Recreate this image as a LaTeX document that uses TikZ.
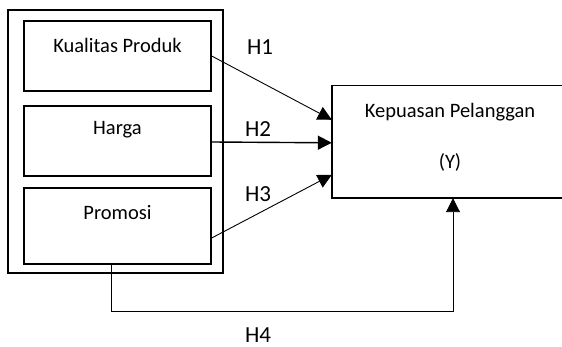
\documentclass[tikz,border=0pt]{standalone}
\usepackage{fontspec}
\setmainfont{Carlito}
\usetikzlibrary{positioning,calc,arrows.meta}

\begin{document}
\begin{tikzpicture}[x=1pt,y=-1pt,
  box/.style={draw=black,line width=1.4pt,inner sep=0pt},
  boxtext/.style={inner sep=0pt,font=\fontsize{20.5}{24}\selectfont},
  hlabel/.style={inner sep=0pt,font=\fontsize{23}{27}\selectfont},
  arr/.style={-{Triangle[length=14pt,width=14pt]},line width=0.9pt}]
\useasboundingbox (0,0) rectangle (562,347);
\clip (0,0) rectangle (562,347);
% left group
\node [box,line width=1.6pt,minimum width=215pt,minimum height=263pt] (grp) at (115.5,141.5) {};
\node [box,minimum width=187pt,minimum height=70pt] (kp) at (117.5,56) {};
\node [boxtext] (kptext) at (117.5,45) {Kualitas Produk};
\node [box,minimum width=187pt,minimum height=70pt] (hg) at (117.5,141) {};
\node [boxtext] (hgtext) at (117.5,130) {Harga};
\node [box,minimum width=187pt,minimum height=76pt] (pr) at (117.5,226) {};
\node [boxtext] (prtext) at (117.5,213) {Promosi};
% dependent variable, cut off at the right edge
\node [inner sep=0pt,minimum width=268pt,minimum height=112pt] (ky) at (466,142) {};
\draw [line width=1.4pt] (ky.north east) -- (ky.north west) -- (ky.south west) -- (ky.south east);
\node [boxtext] (kytext) at (450,112) {Kepuasan Pelanggan};
\node [boxtext] (ytext) at (450,162) {(Y)};
% hypotheses
\draw [arr] (kp.east) -- ($(ky.north west)+(0,34)$);
\draw [arr,line width=1.4pt] ($(hg.east)+(0,1)$) -- ($(ky.north west)+(0,57)$);
\draw [arr] ($(pr.east)+(0,12)$) -- ($(ky.north west)+(0,89)$);
\draw [arr] ([xshift=-6.5pt]pr.south) -- ++(0,47) -| ([xshift=-13pt]ky.south);
\node [hlabel] (h1) at (260,47) {H1};
\node [hlabel] (h2) at (258,129) {H2};
\node [hlabel] (h3) at (258,194) {H3};
\node [hlabel] (h4) at (258,335) {H4};
\end{tikzpicture}
\end{document}
